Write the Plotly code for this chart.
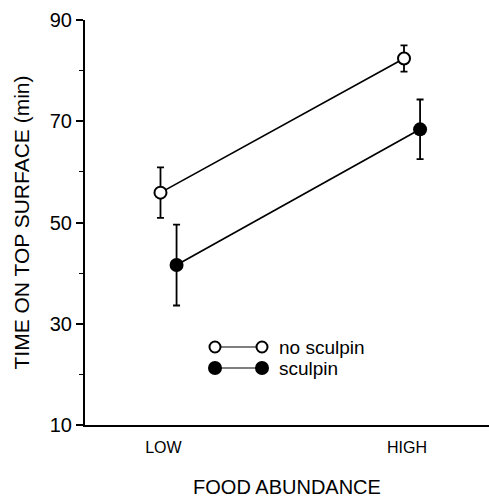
import plotly.graph_objects as go

# ---- data ----
categories = ["LOW", "HIGH"]
cat_pos = [0, 1]
no_sculpin_mean = [55.9, 82.4]
no_sculpin_err = [5.0, 2.6]
sculpin_mean = [41.6, 68.4]
sculpin_err = [8.0, 5.9]
y_ticks = [10, 30, 50, 70, 90]
series_names = ["no sculpin", "sculpin"]

# ---- layout constants ----
OFF_OPEN = -0.012
OFF_FILLED = 0.054
FONT = "Liberation Sans, Arial, Helvetica, sans-serif"

x_open = [p + OFF_OPEN for p in cat_pos]
x_filled = [p + OFF_FILLED for p in cat_pos]

fig = go.Figure()

fig.add_trace(go.Scatter(
    x=x_open, y=no_sculpin_mean, mode="lines+markers", name=series_names[0],
    line=dict(color="black", width=1.7),
    marker=dict(symbol="circle", size=12, color="white", line=dict(color="black", width=2)),
    error_y=dict(type="data", array=no_sculpin_err, color="black", thickness=1.8, width=3.5),
    showlegend=False,
))
fig.add_trace(go.Scatter(
    x=x_filled, y=sculpin_mean, mode="lines+markers", name=series_names[1],
    line=dict(color="black", width=1.7),
    marker=dict(symbol="circle", size=14, color="black", line=dict(color="black", width=0)),
    error_y=dict(type="data", array=sculpin_err, color="black", thickness=1.8, width=3.5),
    showlegend=False,
))

# ---- legend drawn on an overlay pixel axis ----
PLOT_W, PLOT_H = 404, 405
leg_x = [130, 177]
leg_rows = [78, 57]
fig.add_trace(go.Scatter(
    x=leg_x, y=[leg_rows[0]] * 2, xaxis="x2", yaxis="y2", mode="lines+markers",
    line=dict(color="black", width=1.2),
    marker=dict(symbol="circle", size=11, color="white", line=dict(color="black", width=2)),
    showlegend=False, hoverinfo="skip",
))
fig.add_trace(go.Scatter(
    x=leg_x, y=[leg_rows[1]] * 2, xaxis="x2", yaxis="y2", mode="lines+markers",
    line=dict(color="black", width=1.2),
    marker=dict(symbol="circle", size=14, color="black"),
    showlegend=False, hoverinfo="skip",
))
for name, row in zip(series_names, leg_rows):
    fig.add_annotation(x=192, y=row, xref="x2", yref="y2", text=name, showarrow=False,
                       xanchor="left", yanchor="middle",
                       font=dict(family=FONT, size=19, color="black"))

fig.update_layout(
    width=489, height=498,
    margin=dict(l=85, r=0, t=20, b=73),
    paper_bgcolor="white", plot_bgcolor="white",
    font=dict(family=FONT, color="black"),
    xaxis=dict(
        range=[-0.322, 1.337], tickvals=cat_pos, ticktext=categories,
        showline=True, linecolor="black", linewidth=2, ticks="", showgrid=False,
        zeroline=False, tickfont=dict(size=16), ticklabelstandoff=7,
        title=dict(text="FOOD ABUNDANCE", font=dict(size=20), standoff=26),
    ),
    yaxis=dict(
        range=[10, 90], tickvals=y_ticks, showline=True, linecolor="black", linewidth=2,
        ticks="outside", ticklen=7, tickwidth=1.5, tickcolor="black",
        minor=dict(dtick=10, tick0=0, ticks="outside", ticklen=4, tickwidth=1.2, tickcolor="black"),
        showgrid=False, zeroline=False, tickfont=dict(size=20),
        title=dict(text="TIME ON TOP SURFACE (min)", font=dict(size=21), standoff=14),
    ),
    xaxis2=dict(overlaying="x", range=[0, PLOT_W], visible=False),
    yaxis2=dict(overlaying="y", range=[0, PLOT_H], visible=False),
)

fig.write_html("out.html")
